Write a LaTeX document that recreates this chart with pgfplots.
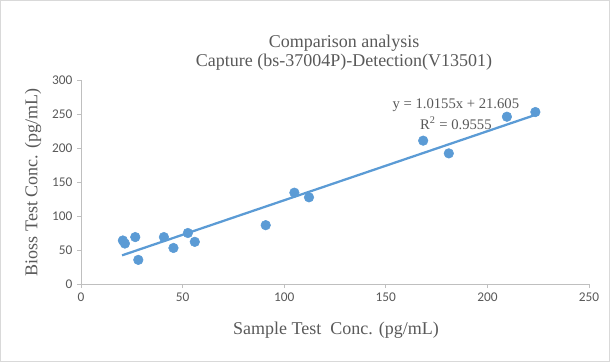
\documentclass[border=0pt]{standalone}
\usepackage{fontspec}
\setmainfont{Liberation Serif}
\newfontfamily\calibri{Carlito}
\usepackage{pgfplots}
\pgfplotsset{compat=1.18}
\definecolor{bl}{HTML}{5B9BD5}
\definecolor{txt}{HTML}{595959}
\definecolor{ax}{HTML}{BFBFBF}
\definecolor{bd}{HTML}{D9D9D9}
\begin{document}
\begin{tikzpicture}
\draw[bd, line width=0.75pt] (0.375pt,0.375pt) rectangle (457.125pt,271.125pt);
\node[txt, font=\fontsize{13.5}{16}\selectfont, inner sep=0pt] at (258pt,239.25pt) {Comparison analysis};
\node[txt, font=\fontsize{13.5}{16}\selectfont, inner sep=0pt] at (258pt,225pt) {Capture (bs-37004P)-Detection(V13501)};
\node[txt, font=\fontsize{13.5}{16}\selectfont, inner sep=0pt] at (252pt,24pt) {Sample Test\ \ Conc. (pg/mL)};
\node[txt, font=\fontsize{13.5}{16}\selectfont, inner sep=0pt, rotate=90] at (24.75pt,134.6pt) {Bioss Test Conc. (pg/mL)};
\begin{axis}[
  at={(60.75pt,58.5pt)}, anchor=south west,
  scale only axis, width=381pt, height=153pt,
  xmin=0, xmax=250, ymin=0, ymax=300,
  xtick={0,50,...,250}, ytick={0,50,...,300},
  axis x line*=bottom, axis y line*=left,
  axis line style={draw=ax, line width=0.75pt, -},
  tick style={draw=ax, line width=0.75pt},
  tick align=outside, major tick length=3pt,
  ticklabel style={font=\calibri\fontsize{10}{12}\selectfont, text=txt},
  /pgf/number format/assume math mode=true,
  clip=false,
]
\addplot[bl, line width=1.7pt, no marks] coordinates {(20.2,42.12) (223.4,248.47)};
\addplot[only marks, mark=*, mark size=3.6pt, bl, mark options={draw=bl, fill=bl}] coordinates {
(20.6,64.0) (21.6,59.5) (26.7,69.0) (28.2,35.5) (40.8,69.0) (45.5,53.0)
(52.6,75.0) (56.0,62.0) (90.9,86.5) (105.0,134.3) (112.2,127.5)
(168.4,210.8) (181.0,192.1) (209.6,246.0) (223.6,252.9)
};
\node[txt, font=\fontsize{11}{13}\selectfont, inner sep=0pt] at (axis cs:184.5,262.5) {y = 1.0155x + 21.605};
\node[txt, font=\fontsize{11}{13}\selectfont, inner sep=0pt] at (axis cs:184.5,236.5) {R\textsuperscript{2} = 0.9555};
\end{axis}
\end{tikzpicture}
\end{document}
